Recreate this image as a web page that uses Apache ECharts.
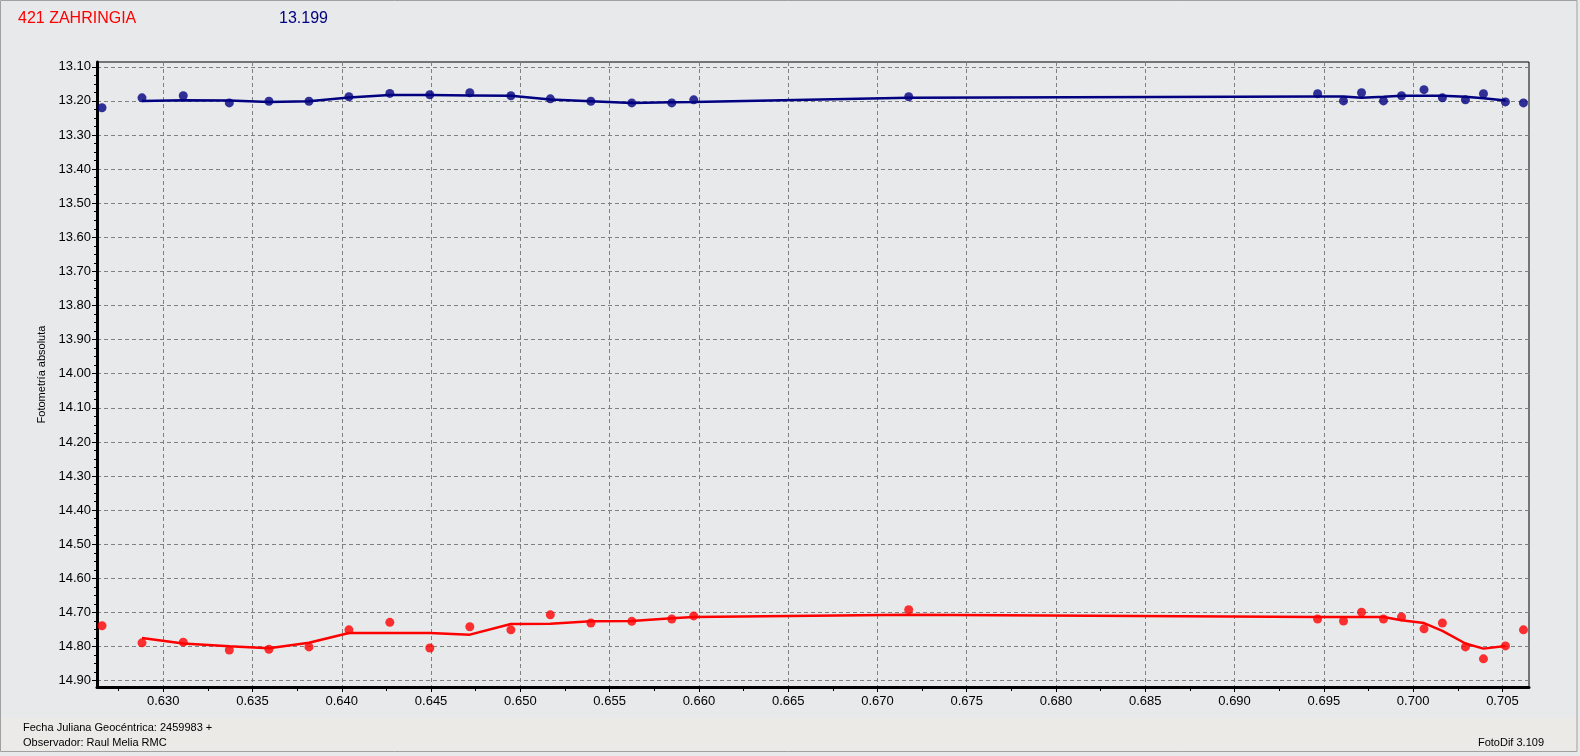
<!DOCTYPE html>
<html>
<head>
<meta charset="utf-8">
<script src="https://cdn.jsdelivr.net/npm/echarts@6/dist/echarts.min.js"></script>
<style>
html,body{margin:0;padding:0;background:#e8e9eb;}
#c{width:1580px;height:756px;}
</style>
</head>
<body>
<div id="c"></div>
<script>
// Julian date fraction (x) of each observation
const jd = [0.62657,0.62881,0.63112,0.63370,0.63592,0.63816,0.64040,0.64269,0.64493,0.64717,
            0.64947,0.65168,0.65395,0.65624,0.65848,0.65971,0.67175,0.69465,0.69610,0.69711,
            0.69834,0.69935,0.70061,0.70164,0.70293,0.70394,0.70517,0.70618];
// comparison (blue) magnitudes
const blueMag = [13.220,13.191,13.185,13.206,13.201,13.201,13.188,13.178,13.182,13.176,
                 13.185,13.194,13.201,13.206,13.206,13.197,13.188,13.179,13.200,13.176,
                 13.200,13.185,13.167,13.191,13.197,13.179,13.203,13.206];
// asteroid (red) magnitudes
const redMag = [14.739,14.789,14.787,14.810,14.808,14.801,14.751,14.729,14.804,14.742,
                14.751,14.707,14.731,14.726,14.719,14.710,14.692,14.719,14.725,14.699,
                14.719,14.713,14.748,14.731,14.801,14.836,14.798,14.751];
// smoothed trend lines (index 1 .. 26)
const blueFit = [null,13.200,13.198,13.199,13.203,13.201,13.190,13.183,13.183,13.184,
                 13.185,13.196,13.201,13.206,13.204,13.203,13.191,13.187,13.187,13.191,
                 13.188,13.185,13.185,13.185,13.188,13.192,13.199,null];
const redFit = [null,14.775,14.791,14.799,14.805,14.789,14.760,14.760,14.760,14.765,
                14.734,14.733,14.726,14.725,14.717,14.713,14.707,14.713,14.713,14.713,
                14.713,14.723,14.731,14.754,14.791,14.806,14.798,null];
// tick values
const yTicks = [13.1,13.2,13.3,13.4,13.5,13.6,13.7,13.8,13.9,14.0,14.1,14.2,14.3,14.4,14.5,14.6,14.7,14.8,14.9];
const xTicks = [0.630,0.635,0.640,0.645,0.650,0.655,0.660,0.665,0.670,0.675,0.680,0.685,0.690,0.695,0.700,0.705];

const yMinor = [];
for (let i = 0; i <= 72; i++) yMinor.push(+(13.1 + i * 0.025).toFixed(3));
const xMinor = [];
for (let i = -1; i <= 30; i++) xMinor.push(+(0.630 + i * 0.0025).toFixed(4));

const FONT = '"Liberation Sans", Arial, sans-serif';
const BLUE = '#000080', RED = '#ff0000';

const pairs = (xs, ys) => xs.map((x, i) => ys[i] == null ? null : [x, ys[i]]).filter(p => p);

const chart = echarts.init(document.getElementById('c'), null, {renderer: 'canvas'});
const xMin = 0.62629, xMax = 0.70649, yMin = 13.086, yMax = 14.9185;
const GL = 97, GR = 51, GT = 62, GB = 69;
const GW = 1580 - GL - GR, GH = 756 - GT - GB;

chart.setOption({
  animation: false,
  backgroundColor: '#e8e9eb',
  grid: {left: GL, right: GR, top: GT, bottom: GB, show: true, borderColor: '#000', borderWidth: 1, backgroundColor: 'transparent'},
  graphic: [
    {type: 'rect', silent: true, z: -10, shape: {x: 1, y: 718, width: 1576, height: 33}, style: {fill: '#ebeae7'}},
    {type: 'rect', silent: true, z: -9, shape: {x: 0.5, y: 0.5, width: 1576.5, height: 751}, style: {fill: 'none', stroke: '#a0a0a0', lineWidth: 1}},
    {type: 'text', x: 18, y: 19, style: {text: '421 ZAHRINGIA', fill: RED, font: '16px ' + FONT, textVerticalAlign: 'middle'}},
    {type: 'text', x: 279, y: 19, style: {text: '13.199', fill: BLUE, font: '16px ' + FONT, textVerticalAlign: 'middle'}},
    {type: 'text', x: 23, y: 728, style: {text: 'Fecha Juliana Geocéntrica: 2459983 +', fill: '#000', font: '11px ' + FONT, textVerticalAlign: 'middle'}},
    {type: 'text', x: 23, y: 743, style: {text: 'Observador: Raul Melia RMC', fill: '#000', font: '11px ' + FONT, textVerticalAlign: 'middle'}},
    {type: 'text', x: 1544, y: 743, style: {text: 'FotoDif 3.109', fill: '#000', font: '11px ' + FONT, textVerticalAlign: 'middle', textAlign: 'right'}}
  ],
  xAxis: [
    {
      type: 'value', min: xMin, max: xMax, position: 'bottom',
      axisLine: {show: true, onZero: false, lineStyle: {color: '#000', width: 3}},
      axisTick: {show: true, customValues: xTicks, length: 5, lineStyle: {color: '#000'}},
      axisLabel: {customValues: xTicks, color: '#000', fontFamily: FONT, fontSize: 13, margin: 8,
                  formatter: v => v.toFixed(3)},
      splitLine: {show: true, lineStyle: {color: '#808080', type: [4, 3], width: 1}}
    },
    {
      // minor ticks (axis lands on top, pushed down to the bottom edge)
      type: 'value', min: xMin, max: xMax, position: 'top', offset: -GH,
      axisLine: {show: false, onZero: false},
      axisTick: {show: true, inside: true, customValues: xMinor, length: 4, lineStyle: {color: '#000'}},
      axisLabel: {show: false},
      splitLine: {show: false}
    }
  ],
  yAxis: [
    {
      type: 'value', inverse: true, min: yMin, max: yMax, position: 'left',
      name: 'Fotometría absoluta', nameLocation: 'middle', nameRotate: 90, nameGap: 46,
      nameTextStyle: {color: '#000', fontFamily: FONT, fontSize: 11},
      axisLine: {show: true, onZero: false, lineStyle: {color: '#000', width: 3}},
      axisTick: {show: true, customValues: yTicks, length: 5, lineStyle: {color: '#000'}},
      axisLabel: {customValues: yTicks, color: '#000', fontFamily: FONT, fontSize: 13, margin: 6,
                  formatter: v => v.toFixed(2)},
      splitLine: {show: true, lineStyle: {color: '#808080', type: [4, 3], width: 1}}
    },
    {
      // minor ticks (axis lands on the right, pushed back to the left edge)
      type: 'value', inverse: true, min: yMin, max: yMax, position: 'right', offset: -GW,
      axisLine: {show: false, onZero: false},
      axisTick: {show: true, inside: true, customValues: yMinor, length: 3, lineStyle: {color: '#000'}},
      axisLabel: {show: false},
      splitLine: {show: false}
    }
  ],
  series: [
    {type: 'line', data: pairs(jd, blueFit), symbol: 'none', lineStyle: {color: BLUE, width: 2.5}, z: 3},
    {type: 'line', data: pairs(jd, redFit), symbol: 'none', lineStyle: {color: RED, width: 2.5}, z: 3},
    {type: 'scatter', data: pairs(jd, blueMag), symbol: 'circle', symbolSize: 9, itemStyle: {color: BLUE}, z: 4},
    {type: 'scatter', data: pairs(jd, redMag), symbol: 'circle', symbolSize: 9, itemStyle: {color: RED}, z: 4}
  ]
});
</script>
</body>
</html>
